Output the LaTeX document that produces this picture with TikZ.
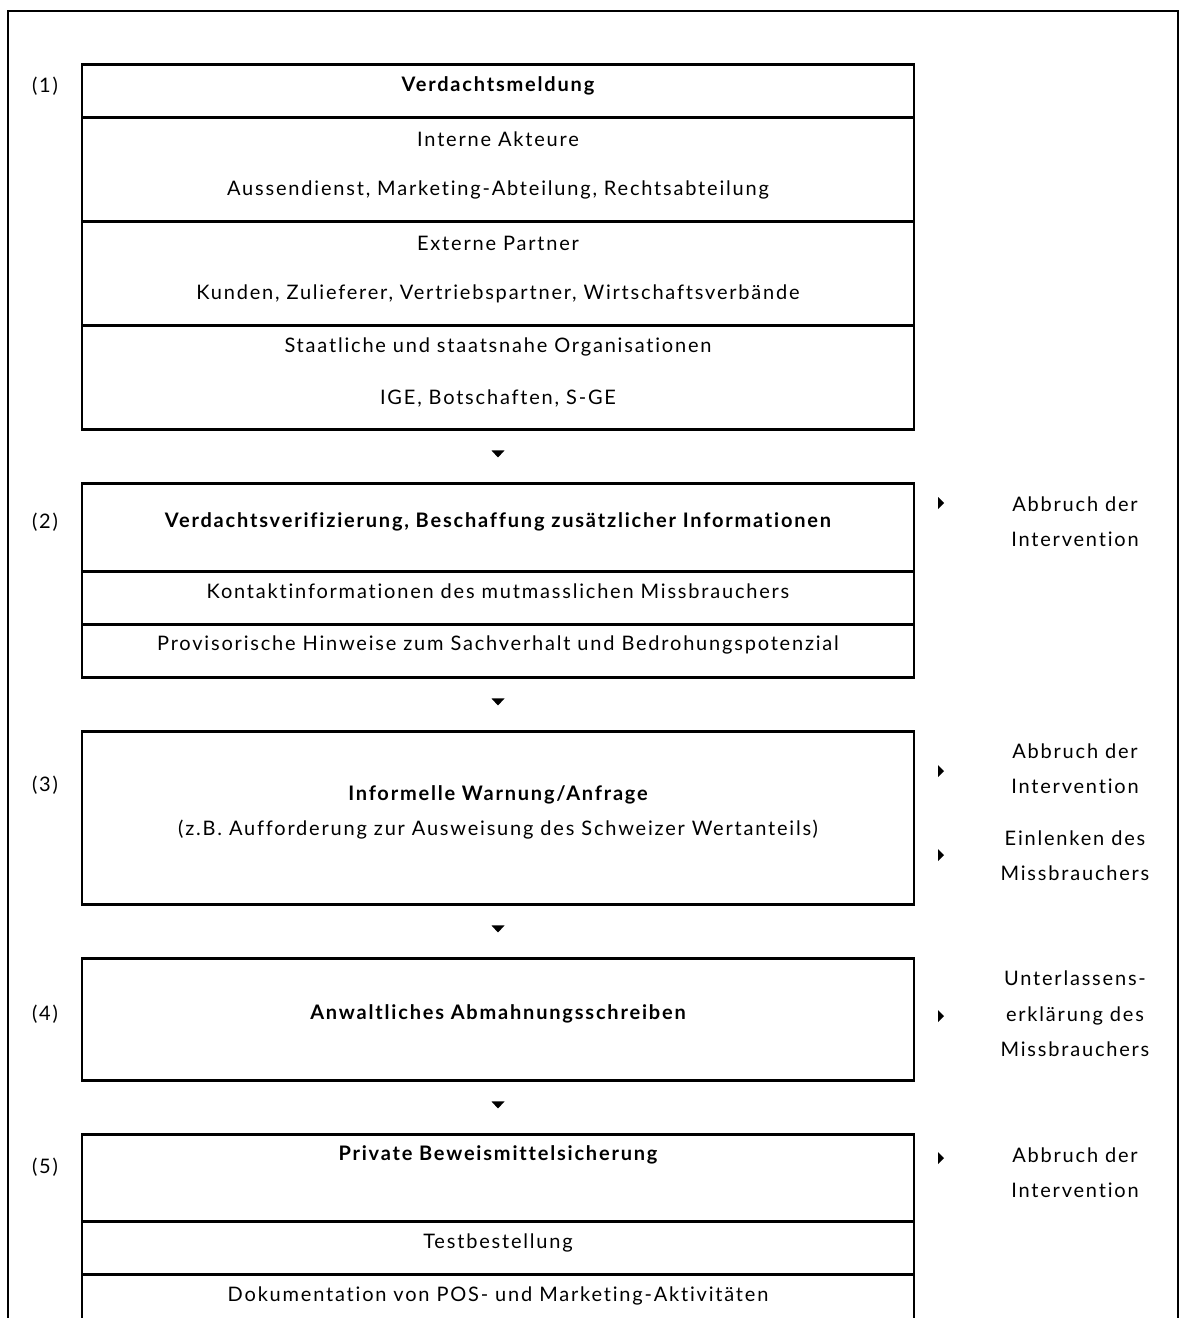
\documentclass[tikz,border=0pt]{standalone}
\usepackage{fontspec}
\setmainfont{Lato}[LetterSpace=9,Ligatures=NoCommon]
\usetikzlibrary{calc}
\begin{document}
\begin{tikzpicture}[x=0.75pt,y=-0.75pt,
  seg/.style={draw,line width=2.2pt,minimum width=624pt,inner sep=0pt,anchor=north},
  txt/.style={inner sep=0pt,font=\fontsize{15}{18}\selectfont},
  ttl/.style={txt,font=\fontsize{15}{18}\selectfont\bfseries},
  side/.style={txt,align=center},
  tri/.style={fill=black}]
\useasboundingbox (0,0) rectangle (1182,1318);
\clip (0,0) rectangle (1182,1318);
% outer frame
\draw[line width=1.5pt] (8,1330) -- (8,11) -- (1178,11) -- (1178,1330);
% box 1
\node[seg,minimum height=39.75pt] (b1a) at (498,63) {};
\node[seg,minimum height=78pt] (b1b) at (498,116) {};
\node[seg,minimum height=78pt] (b1c) at (498,220) {};
\node[seg,minimum height=78pt] (b1d) at (498,324) {};
\node[ttl] (t1a) at (498,86) {Verdachtsmeldung};
\node[txt] (t1b) at (498,139) {Interne Akteure};
\node[txt] (t1b2) at (498,190) {Aussendienst, Marketing-Abteilung, Rechtsabteilung};
\node[txt] (t1c) at (498,243) {Externe Partner};
\node[txt] (t1c2) at (498,294) {Kunden, Zulieferer, Vertriebspartner, Wirtschaftsverbände};
\node[txt] (t1d) at (498,347) {Staatliche und staatsnahe Organisationen};
\node[txt] (t1d2) at (498,398) {IGE, Botschaften, S-GE};
% box 2
\node[seg,minimum height=66pt] (b2a) at (498,482) {};
\node[seg,minimum height=39.75pt] (b2b) at (498,570) {};
\node[seg,minimum height=39.75pt] (b2c) at (498,623) {};
\node[ttl] (t2a) at (498,522) {Verdachtsverifizierung, Beschaffung zusätzlicher Informationen};
\node[txt] (t2b) at (498,591) {Kontaktinformationen des mutmasslichen Missbrauchers};
\node[txt] (t2c) at (498,645) {Provisorische Hinweise zum Sachverhalt und Bedrohungspotenzial};
% box 3
\node[seg,minimum height=129.75pt] (b3) at (498,730) {};
\node[ttl] (t3a) at (498,795) {Informelle Warnung/Anfrage};
\node[txt] (t3b) at (498,830) {(z.B. Aufforderung zur Ausweisung des Schweizer Wertanteils)};
% box 4
\node[seg,minimum height=91.5pt] (b4) at (498,957) {};
\node[ttl] (t4) at (498,1014) {Anwaltliches Abmahnungsschreiben};
% box 5
\node[seg,minimum height=65.25pt] (b5a) at (498,1133) {};
\node[seg,minimum height=39.75pt] (b5b) at (498,1220) {};
\node[seg,minimum height=45pt] (b5c) at (498,1273) {};
\node[ttl] (t5a) at (498,1155) {Private Beweismittelsicherung};
\node[txt] (t5b) at (498,1243) {Testbestellung};
\node[txt] (t5c) at (498,1296) {Dokumentation von POS- und Marketing-Aktivitäten};
% step labels
\node[txt] (l1) at (45,86) {(1)};
\node[txt] (l2) at (45,522) {(2)};
\node[txt] (l3) at (45,785) {(3)};
\node[txt] (l4) at (45,1014) {(4)};
\node[txt] (l5) at (45,1167) {(5)};
% down triangles
\foreach \a/\b in {b1d/b2a,b2c/b3,b3/b4,b4/b5a}{
  \coordinate (m) at ($(\a.south)!0.5!(\b.north)$);
  \fill[tri] ($(m)+(-6.5,-6)$) -- ++(13,0) -- ++(-6.5,7) -- cycle;
}
% right triangles
\foreach \yy in {503,771,855,1016,1158}{
  \fill[tri] (938,\yy-6) -- ++(6,6) -- ++(-6,6) -- cycle;
}
% side texts
\node[side] (r2) at (1075,522) {Abbruch der\\[8.5pt]Intervention};
\node[side] (r3a) at (1075,769) {Abbruch der\\[8.5pt]Intervention};
\node[side] (r3b) at (1075,855.5) {Einlenken des\\[8.5pt]Missbrauchers};
\node[side] (r4) at (1075,1014) {Unterlassens-\\[8.5pt]erklärung des\\[8.5pt]Missbrauchers};
\node[side] (r5) at (1075,1172.5) {Abbruch der\\[8.5pt]Intervention};
\end{tikzpicture}
\end{document}
